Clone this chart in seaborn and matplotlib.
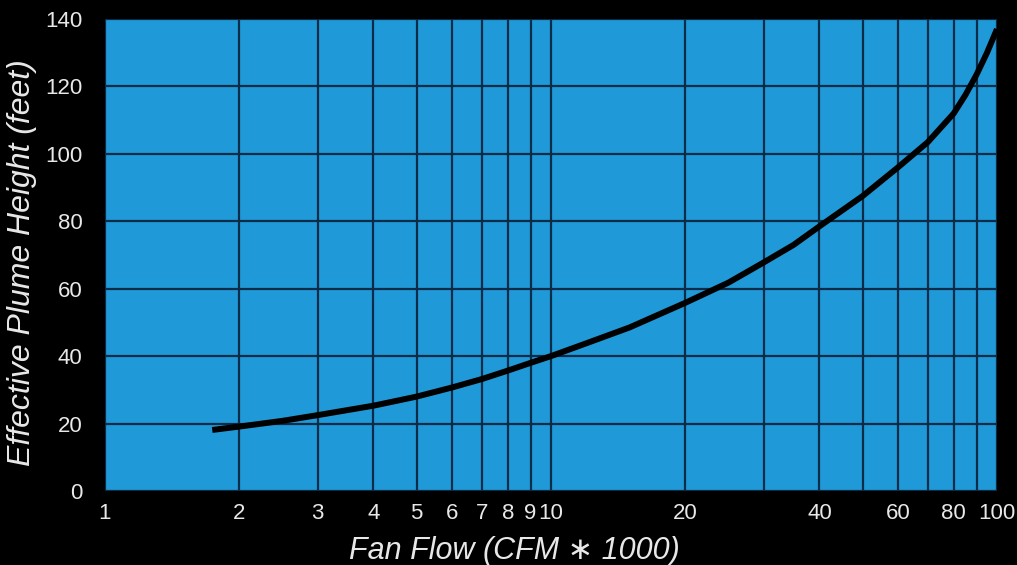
import matplotlib
matplotlib.use("Agg")
import matplotlib.pyplot as plt
import seaborn as sns
import pandas as pd

# Fan flow (thousands of CFM) and the resulting effective plume height (feet)
fan_flow = [1.74, 2, 2.5, 3, 4, 5, 6, 7, 8, 9, 10, 12, 15, 20, 25, 30, 35, 40,
            50, 60, 70, 80, 85, 90, 95, 100]
plume_height = [18.1, 19.1, 20.8, 22.5, 25.3, 28.0, 30.7, 33.2, 35.7, 38.0, 40.0,
                43.8, 48.5, 55.8, 61.8, 67.8, 73.0, 78.5, 87.5, 96.0, 103.5, 112.0,
                117.5, 123.5, 130.0, 137.0]

x_grid = [1, 2, 3, 4, 5, 6, 7, 8, 9, 10, 20, 30, 40, 50, 60, 70, 80, 90, 100]
x_labels = ["1", "2", "3", "4", "5", "6", "7", "8", "9", "10", "20", "", "40", "",
            "60", "", "80", "", "100"]
y_ticks = [0, 20, 40, 60, 80, 100, 120, 140]

df = pd.DataFrame({"flow": fan_flow, "height": plume_height})

sns.set_theme(style="white")
plt.rcParams["font.family"] = ["Liberation Sans", "DejaVu Sans"]

text_color = "#e8e8e8"

fig = plt.figure(figsize=(10.17, 5.65), dpi=100, facecolor="black")
ax = fig.add_axes([0.1032, 0.1310, 0.8771, 0.8354])
ax.set_facecolor("#2099d8")

ax.set_xscale("log")
ax.set_xlim(1, 100)
ax.set_ylim(0, 140)

ax.set_xticks(x_grid)
ax.set_xticks([], minor=True)
ax.set_xticklabels(x_labels)
ax.set_yticks(y_ticks)

ax.grid(True, which="major", color="#0a2c48", linewidth=1.6)
ax.set_axisbelow(True)

sns.lineplot(data=df, x="flow", y="height", ax=ax, color="black",
             linewidth=4.3, solid_capstyle="butt", solid_joinstyle="round")

for s in ax.spines.values():
    s.set_visible(False)

ax.tick_params(axis="both", length=0, colors=text_color, labelsize=16)
ax.tick_params(axis="x", pad=9)
ax.tick_params(axis="y", pad=16)

ax.set_xlabel("Fan Flow (CFM \u2217 1000)", color=text_color, fontsize=22,
              style="italic")
ax.set_ylabel("Effective Plume Height (feet)", color=text_color, fontsize=23,
              style="italic")
ax.xaxis.set_label_coords(0.459, -0.0964)
ax.yaxis.set_label_coords(-0.0762, 0.484)

fig.savefig("out.png", dpi=100, facecolor="black")
